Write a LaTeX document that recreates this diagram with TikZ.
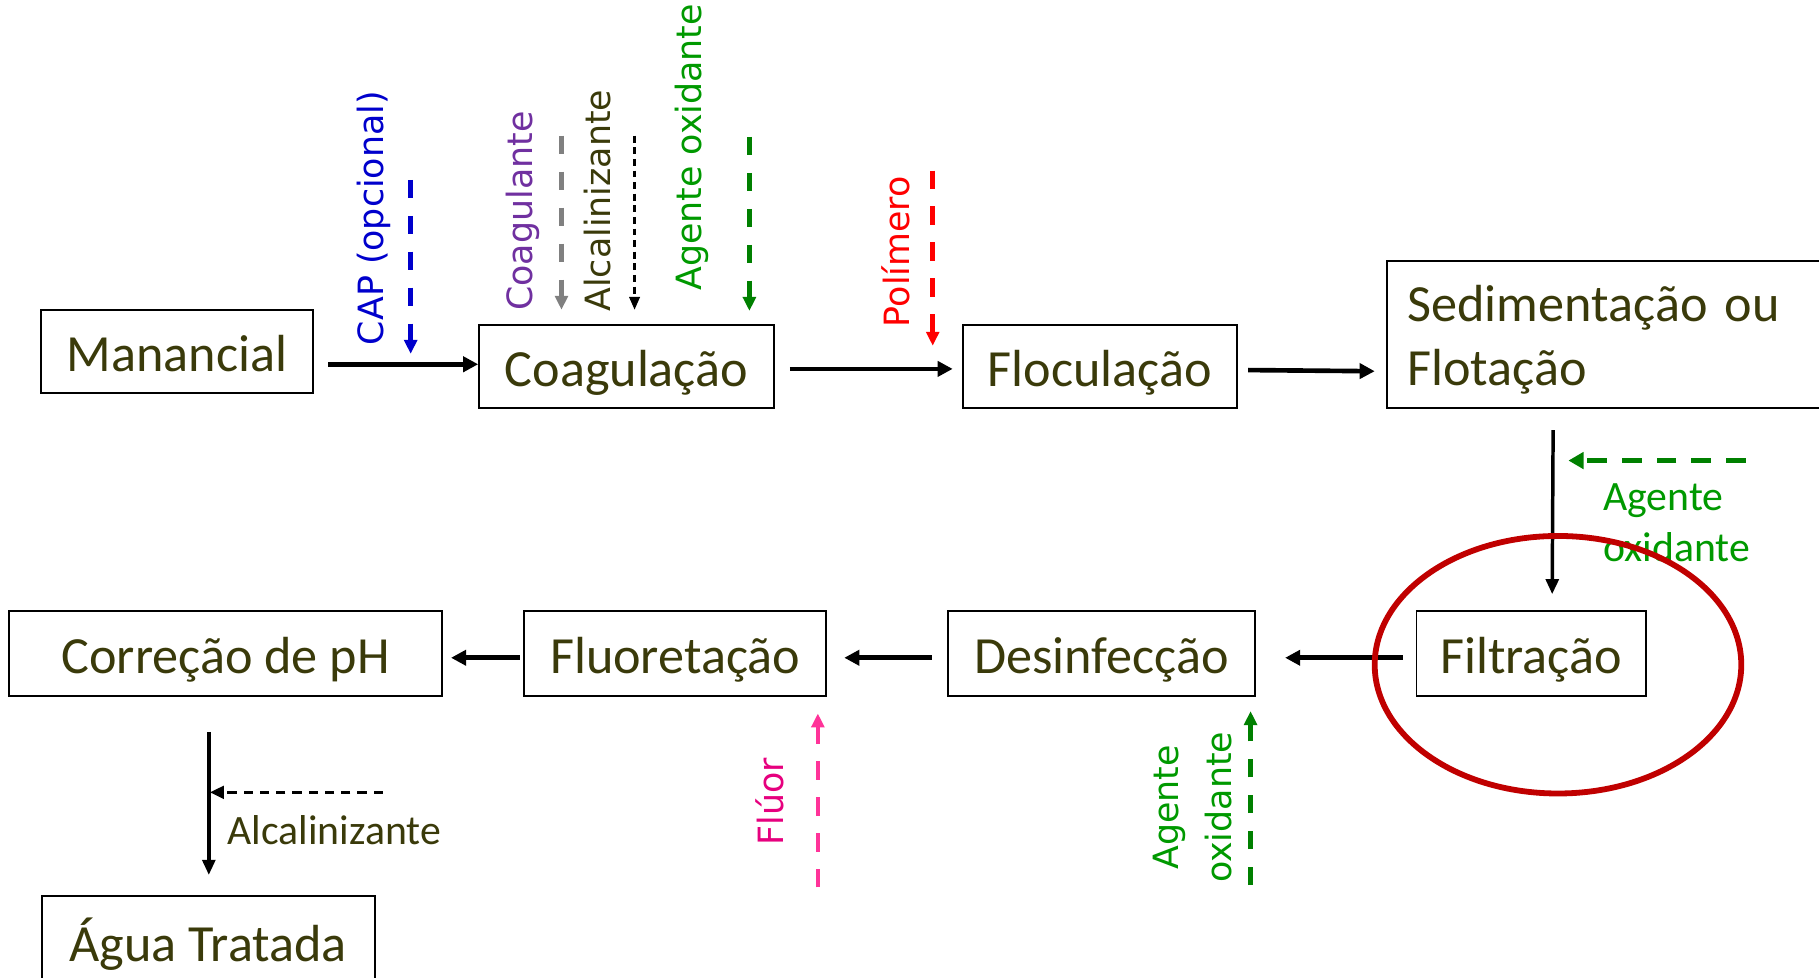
\documentclass[tikz,border=0pt]{standalone}
\usepackage{fontspec}
\setmainfont{Carlito}
\newfontfamily\vfont{DejaVu Sans}
\usetikzlibrary{arrows.meta}
\definecolor{boxtext}{HTML}{3A3A0A}
\definecolor{capblue}{HTML}{0000CC}
\definecolor{coagpurple}{HTML}{7030A0}
\definecolor{oxgreen}{HTML}{009900}
\definecolor{oxarrow}{HTML}{008000}
\definecolor{polred}{HTML}{FF0000}
\definecolor{fluortext}{HTML}{E6007E}
\definecolor{fluorarrow}{HTML}{FF3399}
\definecolor{circred}{HTML}{C00000}
\tikzset{
  box/.style={draw, line width=1.6pt, text=boxtext, font=\fontsize{45}{56}\selectfont, inner sep=4pt},
  onebox/.style={box, text height=36pt, text depth=2pt},
  mainarr/.style={line width=4pt, -{Triangle[length=13pt,width=13pt]}},
  thinarr/.style={line width=3pt, -{Triangle[length=13pt,width=11pt]}},
  dasharr/.style={line width=4pt, dash pattern=on 16pt off 15pt, -{Triangle[length=12pt,width=11pt]}},
  thindash/.style={line width=2pt, dash pattern=on 6pt off 4pt, -{Triangle[length=11pt,width=9pt]}},
  vlabel/.style={rotate=90, font=\vfont\fontsize{30}{45}\selectfont, inner sep=0pt},
  hlabel/.style={font=\fontsize{36}{44}\selectfont, inner sep=0pt, align=left},
}
\begin{document}
\begin{tikzpicture}[x=1pt,y=-1pt]
\useasboundingbox (0,0) rectangle (1568,843);
% boxes
\node[onebox, minimum width=235pt, minimum height=72pt] (man) at (152.5,303) {Manancial};
\node[onebox, minimum width=254pt, minimum height=72pt] (coag) at (540,316) {Coagulação};
\node[onebox, minimum width=236pt, minimum height=72pt] (floc) at (948,316) {Floculação};
\node[box, anchor=west, minimum width=445pt, minimum height=127pt, text width=410pt, align=left] (sed) at (1195,288.5) {\rule{0pt}{40pt}Sedimentação ou\\Flotação};
\node[onebox, minimum width=198pt, minimum height=73pt] (filt) at (1320,563.5) {Filtração};
\node[onebox, minimum width=265pt, minimum height=73pt] (desi) at (949.5,563.5) {Desinfecção};
\node[onebox, minimum width=260pt, minimum height=73pt] (fluo) at (582,563.5) {Fluoretação};
\node[onebox, minimum width=373pt, minimum height=73pt] (corr) at (194.5,563.5) {Correção de pH};
\node[box, minimum width=287pt, minimum height=80pt, text height=36pt, text depth=2pt] (agua) at (179.5,812) {Água Tratada};
% main flow
\draw[mainarr] ([xshift=12pt,yshift=-11pt]man.east) -- ([yshift=2pt]coag.west);
\draw[mainarr] ([xshift=13pt,yshift=-2pt]coag.east) -- ([xshift=-8pt,yshift=-2pt]floc.west);
\draw[mainarr] ([xshift=9pt,yshift=-3pt]floc.east) -- ([xshift=-10pt,yshift=-31.5pt]sed.west);
\draw[thinarr] ([xshift=-79.5pt,yshift=-18pt]sed.south) -- ([xshift=18pt,yshift=14pt]filt.north);
\draw[mainarr] ([xshift=-11pt,yshift=-3.5pt]filt.west) -- ([xshift=25pt,yshift=-3.5pt]desi.east);
\draw[mainarr] ([xshift=-13pt,yshift=-3.5pt]desi.west) -- ([xshift=15pt,yshift=-3.5pt]fluo.east);
\draw[mainarr] ([xshift=-3pt,yshift=-3.5pt]fluo.west) -- ([xshift=7pt,yshift=-3.5pt]corr.east);
\draw[thinarr] ([xshift=-14.5pt,yshift=-30pt]corr.south) -- ([xshift=0.5pt,yshift=17pt]agua.north);
% dosing points
\coordinate (capA) at (354,155); \coordinate (capB) at (354,305);
\draw[dasharr, capblue] (capA) -- (capB);
\node[vlabel, text=capblue] (capL) at (322,188) {CAP (opcional)};
\coordinate (coaA) at (484,117); \coordinate (coaB) at (484,267);
\draw[dasharr, gray] (coaA) -- (coaB);
\node[vlabel, text=coagpurple] (coaL) at (451,182) {Coagulante};
\coordinate (alcA) at (547,117); \coordinate (alcB) at (547,267);
\draw[thindash, black] (alcA) -- (alcB);
\node[vlabel, text=boxtext] (alcL) at (515,173) {Alcalinizante};
\coordinate (oxA) at (646,118); \coordinate (oxB) at (646,268);
\draw[dasharr, oxarrow] (oxA) -- (oxB);
\node[vlabel, text=oxgreen] (oxL) at (596,127) {Agente oxidante};
\coordinate (polA) at (804,147); \coordinate (polB) at (804,298);
\draw[dasharr, polred] (polA) -- (polB);
\node[vlabel, text=polred] (polL) at (772,217) {Polímero};
\coordinate (ox2A) at (1505,397); \coordinate (ox2B) at (1352,397);
\draw[line width=4.4pt, dash pattern=on 17pt off 13pt, oxarrow, -{Triangle[length=13pt,width=14pt]}] (ox2A) -- (ox2B);
\node[hlabel, text=oxgreen, anchor=north west] (ox2L) at (1382,417) {Agente\\oxidante};
\coordinate (fluA) at (705,765); \coordinate (fluB) at (705,615);
\draw[dasharr, fluorarrow] (fluA) -- (fluB);
\node[vlabel, text=fluortext] (fluL) at (664,691) {Flúor};
\coordinate (ox3A) at (1078,763); \coordinate (ox3B) at (1078,613);
\draw[dasharr, oxarrow] (ox3A) -- (ox3B);
\node[vlabel, text=oxgreen, align=center] (ox3L) at (1028,696) {Agente\\oxidante};
\coordinate (alc2A) at (330,683); \coordinate (alc2B) at (181,683);
\draw[line width=2.2pt, dash pattern=on 8pt off 6pt, -{Triangle[length=12pt,width=11pt]}] (alc2A) -- (alc2B);
\node[hlabel, text=boxtext, anchor=west] (alc2L) at (196,716) {Alcalinizante};
% highlight
\draw[circred, line width=5pt] (1343,573) ellipse [x radius=158pt, y radius=111pt];
\end{tikzpicture}
\end{document}
